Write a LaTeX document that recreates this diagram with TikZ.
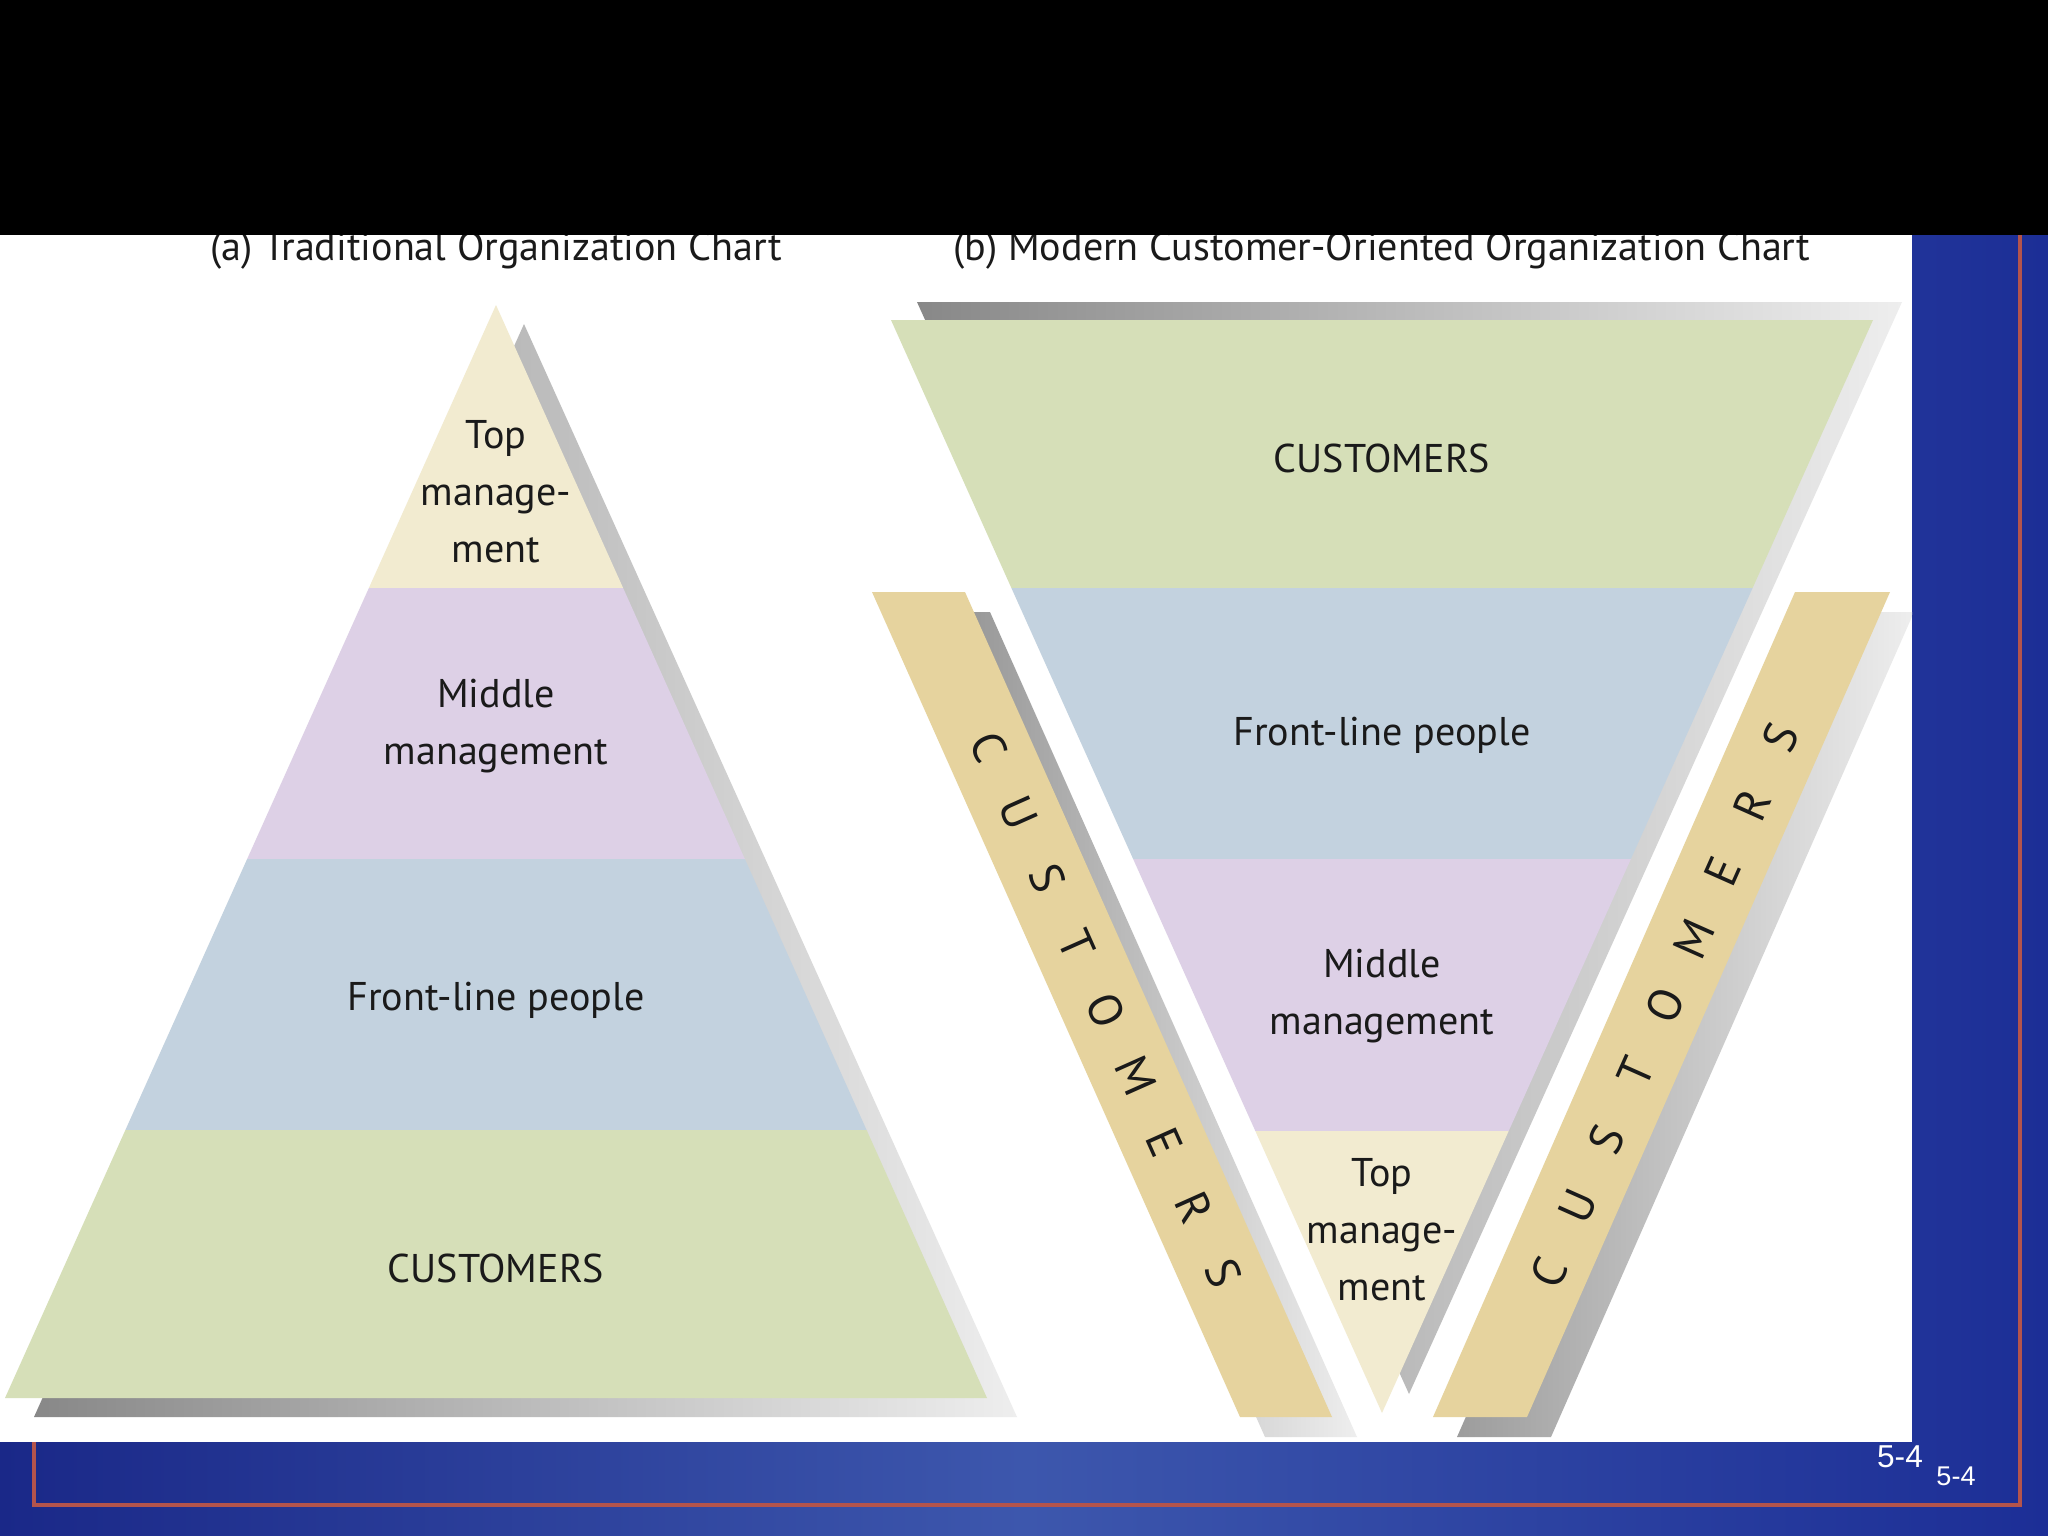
\documentclass[tikz,border=0pt]{standalone}
\usepackage{fontspec}
\setmainfont{PT Sans}
\newfontfamily\arialfont{Liberation Sans}
\definecolor{bgdark}{HTML}{1A2888}
\definecolor{bglight}{HTML}{3D57AD}
\definecolor{bgright}{HTML}{1C2E96}
\definecolor{frameRed}{HTML}{B4544C}
\definecolor{cream}{HTML}{F2EBD0}
\definecolor{lav}{HTML}{DDD0E6}
\definecolor{lblue}{HTML}{C3D2DF}
\definecolor{lgreen}{HTML}{D6DFB8}
\definecolor{tan}{HTML}{E6D39E}
\definecolor{txt}{HTML}{1A1A1A}
\definecolor{shA}{HTML}{888888}
\definecolor{shB}{HTML}{EEEEEE}
\begin{document}
\begin{tikzpicture}[x=0.01cm,y=-0.01cm,
  lbl/.style={font=\fontsize{11.4}{16.2}\selectfont, text=txt, align=center, inner sep=0pt},
  title/.style={font=\fontsize{11.4}{13}\selectfont, text=txt, inner sep=0pt, anchor=base},
  letter/.style={font=\fontsize{13.3}{13.3}\selectfont, text=txt, inner sep=0pt},
  pagenum/.style={font=\arialfont, text=white, inner sep=0pt},
  shadow/.style={left color=shA, right color=shB}]
\useasboundingbox (0,0) rectangle (2048,1536);
% background
\shade[left color=bgdark, right color=bgright, middle color=bglight] (0,0) rectangle (2048,1536);
\draw[frameRed, line width=1.2pt] (34,150) rectangle (2020,1505);
\fill[white] (0,235) rectangle (1912,1442);

\begin{scope}
\clip (0,235) rectangle (1912,1442);
% ---------- (a) traditional pyramid ----------
\shade[shadow] (524,324) -- (1017,1417) -- (34,1417) -- cycle;
\begin{scope}
\clip (496,305) -- (987,1398) -- (5,1398) -- cycle;
\fill[cream]  (0,300) rectangle (1000,588);
\fill[lav]    (0,588) rectangle (1000,859);
\fill[lblue]  (0,859) rectangle (1000,1130);
\fill[lgreen] (0,1130) rectangle (1000,1400);
\end{scope}
\node[lbl] (atop) at (496,492) {Top\\manage-\\ment};
\node[lbl] (amid) at (496,726) {Middle\\management};
\node[lbl] (afront) at (496,1000) {Front-line people};
\node[lbl] (acust) at (496,1268) {CUSTOMERS};

% ---------- (b) inverted pyramid ----------
\shade[shadow] (917,302) -- (1902,302) -- (1409,1394) -- cycle;
\begin{scope}
\clip (891,320) -- (1873,320) -- (1382,1413) -- cycle;
\fill[lgreen] (880,315) rectangle (1880,588);
\fill[lblue]  (880,588) rectangle (1880,859);
\fill[lav]    (880,859) rectangle (1880,1131);
\fill[cream]  (880,1131) rectangle (1880,1415);
\end{scope}
\node[lbl] (bcust) at (1382,458) {CUSTOMERS};
\node[lbl] (bfront) at (1382,735) {Front-line people};
\node[lbl] (bmid) at (1382,996) {Middle\\management};
\node[lbl] (btop) at (1382,1230) {Top\\manage-\\ment};

% left customers strip
\shade[shadow] (897,612) -- (990,612) -- (1357,1437) -- (1265,1437) -- cycle;
\fill[tan] (872,592) -- (965,592) -- (1332,1417) -- (1240,1417) -- cycle;
% right customers strip
\shade[left color=shA!80!shB, right color=shB] (1819,612) -- (1914,612) -- (1551,1437) -- (1457,1437) -- cycle;
\fill[tan] (1795,592) -- (1890,592) -- (1527,1417) -- (1433,1417) -- cycle;
\foreach \ch [count=\i from 0] in {C,U,S,T,O,M,E,R,S} {
  \node[letter, rotate=-66] (lc\i) at ({989+\i*29.3},{747+\i*65.8}) {\ch};
  \node[letter, rotate=66] (rc\i) at ({1549+\i*29},{1273-\i*66.9}) {\ch};
}
% titles
\node[title] (ta) at (496,260) {(a) Traditional Organization Chart};
\node[title] (tb) at (1382,260) {(b) Modern Customer-Oriented Organization Chart};
\end{scope}

\fill[black] (0,0) rectangle (2048,235);
\node[pagenum, font=\arialfont\fontsize{9}{9}\selectfont] (pg1) at (1900,1457) {5-4};
\node[pagenum, font=\arialfont\fontsize{7.7}{7.7}\selectfont] (pg2) at (1956,1476) {5-4};
\end{tikzpicture}
\end{document}
